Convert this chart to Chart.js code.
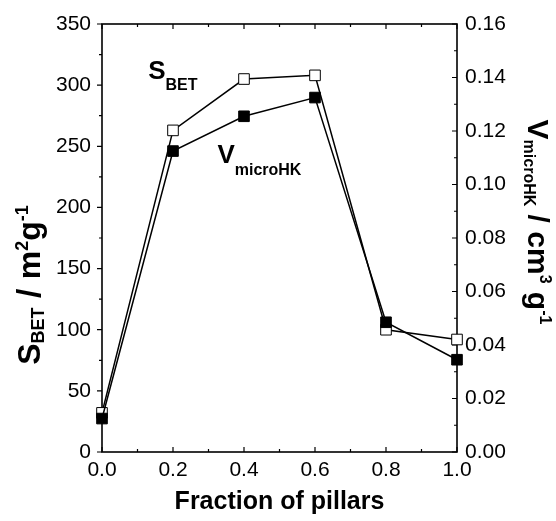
<!DOCTYPE html>
<html><head><meta charset="utf-8">
<script src="https://cdn.jsdelivr.net/npm/chart.js@4.4.0/dist/chart.umd.min.js"></script>
<style>html,body{margin:0;padding:0;background:#fff}canvas{display:block}</style>
</head><body>
<canvas id="c" width="556" height="521"></canvas>
<script>
// ---- data ----
const fractions = [0.0, 0.2, 0.4, 0.6, 0.8, 1.0];
const sBET = [32, 263, 305, 308, 100, 92];
const vMicroHK = [0.0125, 0.1125, 0.1255, 0.1325, 0.0485, 0.0345];
const xTicks = [0.0, 0.2, 0.4, 0.6, 0.8, 1.0];
const xMinorTicks = [0.1, 0.3, 0.5, 0.7, 0.9];
const leftTicks = [0, 50, 100, 150, 200, 250, 300, 350];
const leftMinorTicks = [25, 75, 125, 175, 225, 275, 325];
const rightTicks = [0, 0.02, 0.04, 0.06, 0.08, 0.10, 0.12, 0.14, 0.16];
const rightMinorTicks = [0.01, 0.03, 0.05, 0.07, 0.09, 0.11, 0.13, 0.15];
const xTitle = 'Fraction of pillars';

const FONT = '"Liberation Sans", Arial, sans-serif';
Chart.defaults.font.family = FONT;
Chart.defaults.color = '#000';

function richText(ctx, parts, x, y, angle, align) {
  ctx.save();
  ctx.translate(x, y);
  ctx.rotate(angle);
  ctx.fillStyle = '#000';
  ctx.textBaseline = 'alphabetic';
  ctx.textAlign = 'left';
  let total = 0;
  for (const p of parts) { ctx.font = 'bold ' + p.s + 'px ' + FONT; total += ctx.measureText(p.t).width; }
  let cx = align === 'center' ? -total / 2 : 0;
  for (const p of parts) {
    ctx.font = 'bold ' + p.s + 'px ' + FONT;
    ctx.fillText(p.t, cx, p.dy || 0);
    cx += ctx.measureText(p.t).width;
  }
  ctx.restore();
}

const framePlugin = {
  id: 'frame',
  beforeDatasetsDraw(chart) {
    const ctx = chart.ctx, a = chart.chartArea;
    const xs = chart.scales.x, yl = chart.scales.y, yr = chart.scales.y1;
    ctx.save();
    ctx.strokeStyle = '#000';
    ctx.lineWidth = 1.6;
    ctx.strokeRect(a.left, a.top, a.right - a.left, a.bottom - a.top);
    ctx.lineWidth = 1.2;
    ctx.beginPath();
    const tk = (x1, y1, x2, y2) => { ctx.moveTo(x1, y1); ctx.lineTo(x2, y2); };
    leftTicks.forEach(v => { const p = yl.getPixelForValue(v); tk(a.left - 5, p, a.left, p); });
    leftMinorTicks.forEach(v => { const p = yl.getPixelForValue(v); tk(a.left - 3, p, a.left, p); });
    rightTicks.forEach(v => { const p = yr.getPixelForValue(v); tk(a.right - 5, p, a.right, p); });
    rightMinorTicks.forEach(v => { const p = yr.getPixelForValue(v); tk(a.right - 3, p, a.right, p); });
    xTicks.forEach(v => { const p = xs.getPixelForValue(v); tk(p, a.bottom, p, a.bottom - 5); tk(p, a.top, p, a.top + 5); });
    xMinorTicks.forEach(v => { const p = xs.getPixelForValue(v); tk(p, a.bottom, p, a.bottom - 3); tk(p, a.top, p, a.top + 3); });
    ctx.stroke();
    ctx.restore();
  },
  afterDraw(chart) {
    const ctx = chart.ctx, a = chart.chartArea;
    const xs = chart.scales.x, yl = chart.scales.y;
    ctx.save();
    ctx.font = 'bold 25px ' + FONT;
    ctx.fillStyle = '#000';
    ctx.textAlign = 'center';
    ctx.textBaseline = 'alphabetic';
    ctx.fillText(xTitle, (a.left + a.right) / 2, 509);
    ctx.restore();
    // left title (rotated ccw)
    richText(ctx, [
      {t: 'S', s: 32}, {t: 'BET', s: 18, dy: 4}, {t: ' / ', s: 34}, {t: 'm', s: 32},
      {t: '2', s: 18, dy: -12}, {t: 'g', s: 32}, {t: '-1', s: 18, dy: -12}
    ], 40, 285, -Math.PI / 2, 'center');
    // right title (rotated cw)
    richText(ctx, [
      {t: 'V', s: 30}, {t: 'microHK', s: 16, dy: 4}, {t: ' / cm', s: 30},
      {t: '3', s: 16, dy: -12}, {t: ' g', s: 30}, {t: '-1', s: 16, dy: -12}
    ], 528, 222, Math.PI / 2, 'center');
    // in-plot labels
    richText(ctx, [{t: 'S', s: 26}, {t: 'BET', s: 16, dy: 11}],
      xs.getPixelForValue(0.13), yl.getPixelForValue(305), 0, 'left');
    richText(ctx, [{t: 'V', s: 26}, {t: 'microHK', s: 16, dy: 12}],
      xs.getPixelForValue(0.325), yl.getPixelForValue(236), 0, 'left');
  }
};

new Chart(document.getElementById('c'), {
  type: 'line',
  data: {
    datasets: [
      {
        label: 'VmicroHK',
        data: fractions.map((f, i) => ({x: f, y: vMicroHK[i]})),
        yAxisID: 'y1',
        borderColor: '#000', borderWidth: 1.5,
        pointStyle: 'rect', pointRadius: 7.5,
        pointBackgroundColor: '#000', pointBorderColor: '#000', pointBorderWidth: 1,
        tension: 0, clip: false
      },
      {
        label: 'SBET',
        data: fractions.map((f, i) => ({x: f, y: sBET[i]})),
        yAxisID: 'y',
        borderColor: '#000', borderWidth: 1.5,
        pointStyle: 'rect', pointRadius: 7.5,
        pointBackgroundColor: '#fff', pointBorderColor: '#000', pointBorderWidth: 1,
        tension: 0, clip: false
      }
    ]
  },
  options: {
    responsive: false,
    animation: false,
    layout: {padding: {top: 24, left: 0, right: 0, bottom: 0}},
    plugins: {legend: {display: false}, tooltip: {enabled: false}},
    scales: {
      x: {
        type: 'linear', position: 'bottom', min: 0, max: 1,
        afterBuildTicks: s => { s.ticks = xTicks.map(v => ({value: v})); },
        afterFit: s => { s.height = 69; },
        grid: {display: false, drawTicks: false}, border: {display: false},
        ticks: {font: {size: 21}, padding: 6, autoSkip: false, maxRotation: 0,
          callback: v => Number(v).toFixed(1)}
      },
      y: {
        type: 'linear', position: 'left', min: 0, max: 350,
        afterBuildTicks: s => { s.ticks = leftTicks.map(v => ({value: v})); },
        afterFit: s => { s.width = 102; },
        grid: {display: false, drawTicks: false}, border: {display: false},
        ticks: {font: {size: 21}, padding: 11, callback: v => String(v)}
      },
      y1: {
        type: 'linear', position: 'right', min: 0, max: 0.16,
        afterBuildTicks: s => { s.ticks = rightTicks.map(v => ({value: v})); },
        afterFit: s => { s.width = 99; },
        grid: {display: false, drawTicks: false}, border: {display: false},
        ticks: {font: {size: 21}, padding: 8, callback: v => Number(v).toFixed(2)}
      }
    }
  },
  plugins: [framePlugin]
});
</script>
</body></html>
